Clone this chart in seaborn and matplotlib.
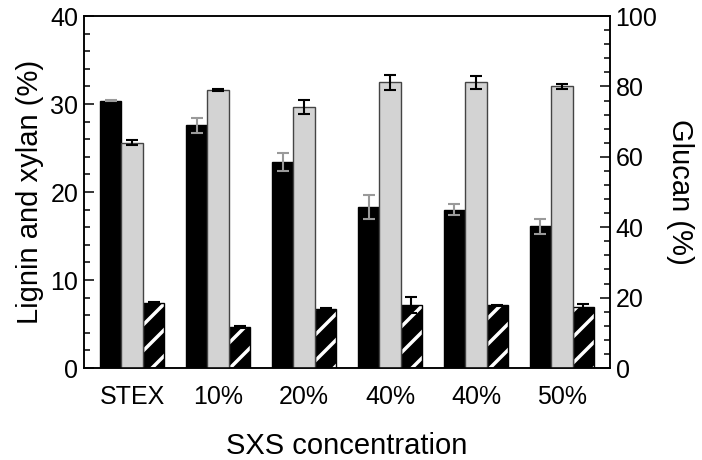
import numpy as np
import pandas as pd
import matplotlib
matplotlib.use("Agg")
import matplotlib.pyplot as plt
from matplotlib.patches import Rectangle
from matplotlib.ticker import MultipleLocator
import seaborn as sns

# values
labels = ['STEX', '10%', '20%', '40%', '40%', '50%']
lignin = [30.4, 27.6, 23.4, 18.3, 18.0, 16.1]
lignin_err = [0.1, 0.85, 1.0, 1.4, 0.65, 0.85]
glucan = [64.0, 79.0, 74.1, 81.2, 81.2, 80.0]
glucan_err = [0.65, 0.25, 2.0, 2.1, 1.9, 0.65]
xylan = [7.4, 4.7, 6.7, 7.2, 7.15, 6.9]
xylan_err = [0.1, 0.1, 0.1, 0.9, 0.05, 0.4]

# drawn at 78 dpi so the hatch stripes come out as dense as in the original;
# point sizes are scaled up to compensate
DPI = 78
S = 100 / DPI

sns.set_style('ticks')
plt.rcParams['font.family'] = ['Liberation Sans', 'DejaVu Sans']
plt.rcParams['hatch.linewidth'] = 3.2
plt.rcParams['axes.linewidth'] = 1.1 * S
for key in ['text.color', 'axes.labelcolor', 'xtick.color', 'ytick.color', 'axes.edgecolor']:
    plt.rcParams[key] = 'black'

n = len(labels)
pos = list(range(n))
comps = ['Lignin', 'Glucan', 'Xylan']

left = pd.DataFrame({
    'pos': pos * 2,
    'comp': ['Lignin'] * n + ['Xylan'] * n,
    'value': lignin + xylan,
})
right = pd.DataFrame({'pos': pos, 'comp': ['Glucan'] * n, 'value': glucan})

fig = plt.figure(figsize=(702 / DPI, 460 / DPI), dpi=DPI)
ax1 = fig.add_axes([0.1197, 0.2, 0.7493, 0.765])
ax2 = ax1.twinx()

pal = {'Lignin': 'black', 'Glucan': '#d3d3d3', 'Xylan': 'black'}
sns.barplot(data=left, x='pos', y='value', hue='comp', hue_order=comps,
            palette=pal, width=0.75, dodge=True, errorbar=None, ax=ax1, legend=False,
            edgecolor='black', linewidth=1 * S, saturation=1)
sns.barplot(data=right, x='pos', y='value', hue='comp', hue_order=comps,
            palette=pal, width=0.75, dodge=True, errorbar=None, ax=ax2, legend=False,
            edgecolor='#444444', linewidth=1 * S, saturation=1)

# patches: first the lignin bars, then the xylan bars
lig_bars = ax1.patches[:n]
xyl_bars = ax1.patches[n:2 * n]
glu_bars = ax2.patches[:n]

for p in xyl_bars:
    p.set_edgecolor('white')
    p.set_linewidth(0)
    p.set_hatch('/')
    ax1.add_patch(Rectangle(p.get_xy(), p.get_width(), p.get_height(),
                            fill=False, edgecolor='black', linewidth=1 * S,
                            zorder=p.get_zorder() + 0.1))

def centers(bars):
    return [b.get_x() + b.get_width() / 2 for b in bars]

eb = dict(fmt='none', elinewidth=1.5 * S, capsize=4 * S, capthick=1.5 * S, zorder=5)
ax1.errorbar(centers(lig_bars), lignin, yerr=lignin_err, ecolor='#9a9a9a', **eb)
ax1.errorbar(centers(xyl_bars), xylan, yerr=xylan_err, ecolor='black', **eb)
ax2.errorbar(centers(glu_bars), glucan, yerr=glucan_err, ecolor='black', **eb)

ax1.set_xlim(-0.56, n - 1 + 0.56)
ax1.set_ylim(0, 40)
ax2.set_ylim(0, 100)
ax1.set_xticks(pos)
ax1.set_xticklabels(labels)

ax1.yaxis.set_major_locator(MultipleLocator(10))
ax1.yaxis.set_minor_locator(MultipleLocator(2))
ax2.yaxis.set_major_locator(MultipleLocator(20))
ax2.yaxis.set_minor_locator(MultipleLocator(4))

for ax in (ax1, ax2):
    ax.tick_params(axis='y', which='major', direction='in', length=7 * S, width=1.1 * S,
                   labelsize=18 * S, pad=4 * S)
    ax.tick_params(axis='y', which='minor', direction='in', length=4 * S, width=1.1 * S)
    for s in ax.spines.values():
        s.set_visible(True)
        s.set_color('black')
ax1.tick_params(axis='x', length=0, labelsize=18 * S, pad=12 * S)

ax1.set_xlabel('SXS concentration', fontsize=21 * S, labelpad=17 * S)
ax1.set_ylabel('Lignin and xylan (%)', fontsize=21 * S, labelpad=5 * S)
ax2.set_ylabel('Glucan (%)', fontsize=21 * S, rotation=270, labelpad=26 * S)

fig.savefig('out.png', dpi=DPI)
